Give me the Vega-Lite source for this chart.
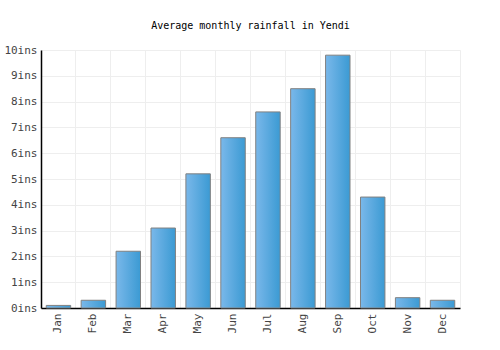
{
  "$schema": "https://vega.github.io/schema/vega-lite/v6.json",
  "width": 419,
  "height": 258,
  "autosize": "none",
  "padding": {"left": 41, "top": 50, "right": 40, "bottom": 42},
  "background": "white",
  "title": {"text": "Average monthly rainfall in Yendi", "font": "DejaVu Sans Mono", "fontSize": 10, "fontWeight": "normal", "color": "#000", "offset": 13, "anchor": "middle"},
  "config": {"view": {"stroke": "#eeeeee"}},
  "data": {"values": [
    {"month": "Jan", "rain": 0.1},
    {"month": "Feb", "rain": 0.3},
    {"month": "Mar", "rain": 2.2},
    {"month": "Apr", "rain": 3.1},
    {"month": "May", "rain": 5.2},
    {"month": "Jun", "rain": 6.6},
    {"month": "Jul", "rain": 7.6},
    {"month": "Aug", "rain": 8.5},
    {"month": "Sep", "rain": 9.8},
    {"month": "Oct", "rain": 4.3},
    {"month": "Nov", "rain": 0.4},
    {"month": "Dec", "rain": 0.3}
  ]},
  "mark": {
    "type": "bar",
    "width": {"band": 0.7},
    "stroke": "#808080",
    "strokeWidth": 1,
    "fill": {"x1": 0, "y1": 0, "x2": 1, "y2": 0, "gradient": "linear", "stops": [{"offset": 0, "color": "#7ab8ea"}, {"offset": 1, "color": "#3b9ad3"}]}
  },
  "encoding": {
    "x": {
      "field": "month", "type": "nominal", "sort": null,
      "scale": {"paddingInner": 0, "paddingOuter": 0},
      "axis": {"title": null, "labelAngle": 270, "labelAlign": "right", "labelBaseline": "middle", "labelFont": "DejaVu Sans Mono", "labelFontSize": 11, "labelColor": "#444", "labelPadding": 5, "ticks": false, "domainColor": "#000", "domainWidth": 1.5, "grid": true, "gridColor": "#eeeeee", "bandPosition": 0}
    },
    "y": {
      "field": "rain", "type": "quantitative",
      "scale": {"domain": [0, 10], "nice": false},
      "axis": {"title": null, "values": [0,1,2,3,4,5,6,7,8,9,10], "labelExpr": "datum.value + 'ins'", "labelFont": "DejaVu Sans Mono", "labelFontSize": 11, "labelColor": "#444", "labelPadding": 4, "ticks": false, "domainColor": "#000", "domainWidth": 1.5, "gridColor": "#eeeeee"}
    }
  }
}
